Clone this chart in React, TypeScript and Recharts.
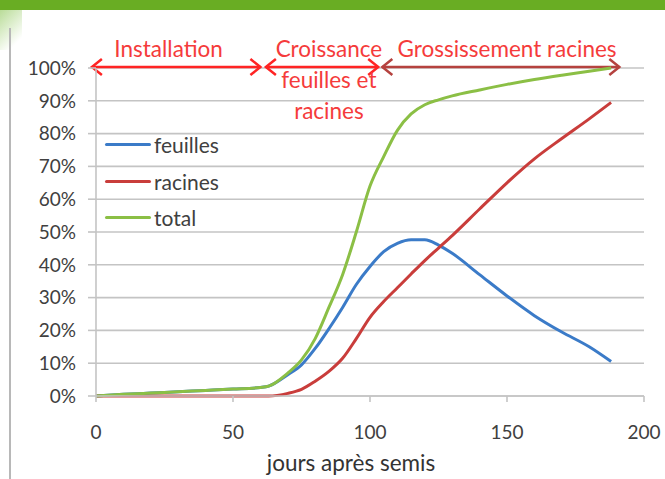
import React from 'react';
import { LineChart, Line, XAxis, YAxis, CartesianGrid, Legend, ReferenceLine } from 'recharts';

// jours après semis
const days = [0, 10, 20, 30, 40, 50, 60, 63, 70, 75, 80, 85, 90, 95, 100, 105, 110, 115, 120, 125, 130, 140, 150, 160, 170, 180, 188];
const feuilles = [0, 0.5, 0.9, 1.3, 1.7, 2.1, 2.6, 3, 6.5, 9.5, 14.5, 20.5, 27, 34, 39.5, 44, 46.5, 47.6, 47.6, 46, 43.5, 37, 30.5, 24.5, 19.5, 15, 10.5];
const racines = [0, 0, 0, 0, 0, 0, 0, 0, 0.8, 2, 4.5, 7.5, 11.5, 17.5, 24, 28.8, 33, 37.2, 41.3, 45.1, 48.9, 57, 65, 72.3, 78.5, 84.5, 89.5];
const total = [0, 0.5, 0.9, 1.3, 1.7, 2.1, 2.6, 3, 7, 11, 17.5, 27, 37, 50, 64, 73, 81, 86, 88.8, 90.3, 91.5, 93.3, 95, 96.5, 97.8, 99, 100];

const xTicks = [0, 50, 100, 150, 200];
const yTicks = [0, 10, 20, 30, 40, 50, 60, 70, 80, 90, 100];

const series = [
  { key: 'feuilles', color: '#3b7bc8' },
  { key: 'racines', color: '#c93d3b' },
  { key: 'total', color: '#8bbf45' },
];

// phases annotées au-dessus du graphique
const phases = [
  { lines: ['Installation'], from: -1.5, to: 60, labelAt: 26.5, color: '#ff2424' },
  { lines: ['Croissance', 'feuilles et', 'racines'], from: 62, to: 103, labelAt: 85, color: '#ff2424' },
  { lines: ['Grossissement racines'], from: 104.5, to: 191, labelAt: 150, color: '#b5423f' },
];

const data = days.map((d, i) => ({
  day: d,
  feuilles: feuilles[i],
  racines: racines[i],
  total: total[i],
}));

const FONT = 'Lato, "Open Sans", sans-serif';
const GRID = '#c4c4c4';
const TEXT = '#404040';
const LABEL_RED = '#f53b3b';

const phaseShape = (phase: (typeof phases)[number]) => (p: any) => {
  const { x1, y1, x2, y2 } = p;
  const h = 10;
  const w = 8;
  const cx = x1 + ((phase.labelAt - phase.from) / (phase.to - phase.from)) * (x2 - x1);
  return (
    <g>
      <line x1={x1} y1={y1} x2={x2} y2={y2} stroke={phase.color} strokeWidth={2.5} />
      <polyline points={`${x1 + h},${y1 - w} ${x1},${y1} ${x1 + h},${y1 + w}`} fill="none" stroke={phase.color} strokeWidth={2.5} />
      <polyline points={`${x2 - h},${y2 - w} ${x2},${y2} ${x2 - h},${y2 + w}`} fill="none" stroke={phase.color} strokeWidth={2.5} />
      {phase.lines.map((t, i) => (
        <text
          key={t}
          x={cx}
          y={y1 - 19 + i * 31}
          textAnchor="middle"
          dominantBaseline="central"
          fontSize={22.5}
          fontFamily={FONT}
          fill={LABEL_RED}
        >
          {t}
        </text>
      ))}
    </g>
  );
};

const LegendBox = (props: any) => {
  const payload = props.payload || [];
  return (
    <div style={{ fontFamily: FONT }}>
      {payload.map((entry: any) => (
        <div key={entry.value} style={{ display: 'flex', alignItems: 'center', height: 36.7 }}>
          <span style={{ display: 'inline-block', width: 46, height: 3, borderRadius: 2, background: entry.color }} />
          <span style={{ fontSize: 21, color: TEXT, marginLeft: 3 }}>{entry.value}</span>
        </div>
      ))}
    </div>
  );
};

export default function App() {
  return (
    <div style={{ position: 'fixed', top: 0, left: 0, width: 665, height: 479, background: '#fff', overflow: 'hidden' }}>
      <div style={{ position: 'absolute', top: 0, left: 0, width: 665, height: 10, background: '#69ad23' }} />
      <div
        style={{
          position: 'absolute',
          top: 10,
          left: 0,
          width: 22,
          height: 40,
          background: 'linear-gradient(135deg, #b9dc98 0%, #ffffff 80%)',
        }}
      />
      <div style={{ position: 'absolute', top: 28, left: 9, width: 2, height: 451, background: '#b8b8b8' }} />
      <LineChart width={665} height={479} data={data} margin={{ top: 68, right: 21, left: 0, bottom: 0 }}>
        <CartesianGrid vertical={false} stroke={GRID} strokeWidth={1.6} />
        <XAxis
          dataKey="day"
          type="number"
          domain={[0, 200]}
          ticks={xTicks}
          height={83}
          axisLine={{ stroke: GRID, strokeWidth: 1.6 }}
          tickLine={{ stroke: GRID, strokeWidth: 1.6 }}
          tickSize={6}
          tickMargin={24}
          tick={{ fill: TEXT, fontSize: 19, fontFamily: FONT }}
          label={{
            value: 'jours après semis',
            position: 'insideBottom',
            offset: 8,
            dx: -19,
            fill: '#333',
            fontSize: 22.5,
            fontFamily: FONT,
          }}
        />
        <YAxis
          type="number"
          domain={[0, 100]}
          ticks={yTicks}
          width={96}
          tickFormatter={(v: number) => `${v}%`}
          axisLine={{ stroke: GRID, strokeWidth: 1.6 }}
          tickLine={{ stroke: GRID, strokeWidth: 1.6 }}
          tickSize={8}
          tickMargin={12}
          tick={{ fill: TEXT, fontSize: 19, fontFamily: FONT }}
        />
        <Legend
          layout="vertical"
          align="center"
          verticalAlign="middle"
          content={<LegendBox />}
          wrapperStyle={{ left: 105, top: 126, width: 130 }}
        />
        {phases.map((ph) => (
          <ReferenceLine
            key={ph.lines[0]}
            segment={[
              { x: ph.from, y: 100.3 },
              { x: ph.to, y: 100.3 },
            ]}
            ifOverflow="visible"
            shape={phaseShape(ph)}
          />
        ))}
        {series.map((s) => (
          <Line
            key={s.key}
            type="monotone"
            dataKey={s.key}
            name={s.key}
            stroke={s.color}
            strokeWidth={3}
            dot={false}
            isAnimationActive={false}
          />
        ))}
      </LineChart>
    </div>
  );
}
